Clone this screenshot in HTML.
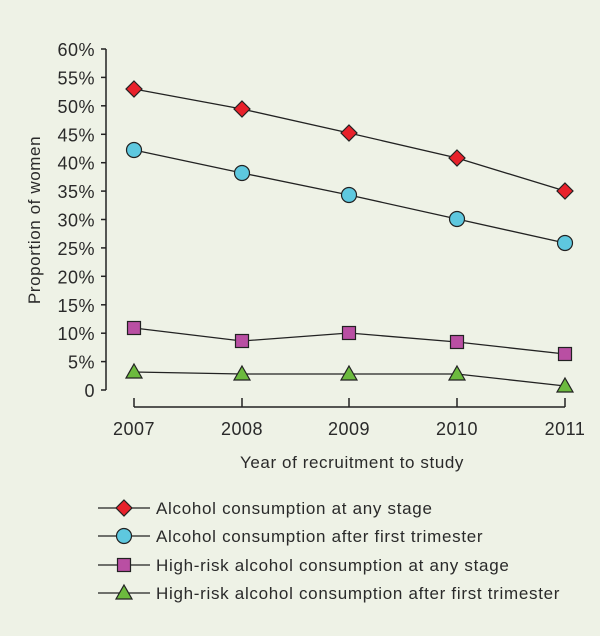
<!DOCTYPE html>
<html><head><meta charset="utf-8"><style>
html,body{margin:0;padding:0;background:#eef2e6;}
svg{display:block;}
text{font-family:"Liberation Sans",sans-serif;fill:#2a2a2a;}
</style></head><body>
<svg width="600" height="636" viewBox="0 0 600 636">
<rect width="600" height="636" fill="#eef2e6"/>
<g stroke="#222" stroke-width="1.5" fill="none">
<line x1="106" y1="49" x2="106" y2="390"/>
<line x1="101" y1="49" x2="106" y2="49"/><line x1="101" y1="77.4" x2="106" y2="77.4"/><line x1="101" y1="105.8" x2="106" y2="105.8"/><line x1="101" y1="134.3" x2="106" y2="134.3"/><line x1="101" y1="162.7" x2="106" y2="162.7"/><line x1="101" y1="191.1" x2="106" y2="191.1"/><line x1="101" y1="219.5" x2="106" y2="219.5"/><line x1="101" y1="247.9" x2="106" y2="247.9"/><line x1="101" y1="276.3" x2="106" y2="276.3"/><line x1="101" y1="304.8" x2="106" y2="304.8"/><line x1="101" y1="333.2" x2="106" y2="333.2"/><line x1="101" y1="361.6" x2="106" y2="361.6"/><line x1="101" y1="390" x2="106" y2="390"/>
<line x1="134" y1="407" x2="565" y2="407"/>
<line x1="134" y1="398" x2="134" y2="407"/><line x1="242" y1="398" x2="242" y2="407"/><line x1="349" y1="398" x2="349" y2="407"/><line x1="457" y1="398" x2="457" y2="407"/><line x1="565" y1="398" x2="565" y2="407"/>
</g>
<g font-size="18" text-anchor="end" letter-spacing="0.5">
<text x="95" y="56">60%</text><text x="95" y="84.4">55%</text><text x="95" y="112.8">50%</text><text x="95" y="141.3">45%</text><text x="95" y="169.7">40%</text><text x="95" y="198.1">35%</text><text x="95" y="226.5">30%</text><text x="95" y="254.9">25%</text><text x="95" y="283.3">20%</text><text x="95" y="311.8">15%</text><text x="95" y="340.2">10%</text><text x="95" y="368.6">5%</text><text x="95" y="397">0</text>
</g>
<g font-size="18" text-anchor="middle" letter-spacing="0.5">
<text x="134" y="435">2007</text><text x="242" y="435">2008</text><text x="349" y="435">2009</text><text x="457" y="435">2010</text><text x="565" y="435">2011</text>
</g>
<g font-size="17" text-anchor="middle" letter-spacing="0.6">
<text x="352" y="468">Year of recruitment to study</text>
<text transform="translate(40,220) rotate(-90)">Proportion of women</text>
</g>
<g stroke="#222" stroke-width="1.3" fill="none">
<polyline points="134,89 242,109 349,133 457,158 565,191"/>
<polyline points="134,150 242,173 349,195 457,219 565,243"/>
<polyline points="134,328 242,341 349,333 457,342 565,354"/>
<polyline points="134,372 242,374 349,374 457,374 565,386"/>
<line x1="98" y1="508" x2="150" y2="508"/><line x1="98" y1="536" x2="150" y2="536"/><line x1="98" y1="565" x2="150" y2="565"/><line x1="98" y1="593" x2="150" y2="593"/>
</g>
<defs>
<path id="d" d="M0,-8 L8,0 L0,8 L-8,0Z" fill="#e8212b" stroke="#222" stroke-width="1.2"/>
<circle id="c" r="7.5" fill="#5ec8df" stroke="#222" stroke-width="1.2"/>
<rect id="s" x="-6.5" y="-6.5" width="13" height="13" fill="#b94fa3" stroke="#222" stroke-width="1.2"/>
<path id="t" d="M0,-8 L8,6 L-8,6Z" fill="#6cba3e" stroke="#222" stroke-width="1.2"/>
</defs>
<use href="#d" x="134" y="89"/><use href="#d" x="242" y="109"/><use href="#d" x="349" y="133"/><use href="#d" x="457" y="158"/><use href="#d" x="565" y="191"/>
<use href="#c" x="134" y="150"/><use href="#c" x="242" y="173"/><use href="#c" x="349" y="195"/><use href="#c" x="457" y="219"/><use href="#c" x="565" y="243"/>
<use href="#s" x="134" y="328"/><use href="#s" x="242" y="341"/><use href="#s" x="349" y="333"/><use href="#s" x="457" y="342"/><use href="#s" x="565" y="354"/>
<use href="#t" x="134" y="372"/><use href="#t" x="242" y="374"/><use href="#t" x="349" y="374"/><use href="#t" x="457" y="374"/><use href="#t" x="565" y="386"/>
<use href="#d" x="124" y="508"/><use href="#c" x="124" y="536"/><use href="#s" x="124" y="565"/><use href="#t" x="124" y="593"/>
<g font-size="17" letter-spacing="0.7">
<text x="156" y="514">Alcohol consumption at any stage</text>
<text x="156" y="542">Alcohol consumption after first trimester</text>
<text x="156" y="571">High-risk alcohol consumption at any stage</text>
<text x="156" y="599">High-risk alcohol consumption after first trimester</text>
</g>
</svg>
</body></html>
